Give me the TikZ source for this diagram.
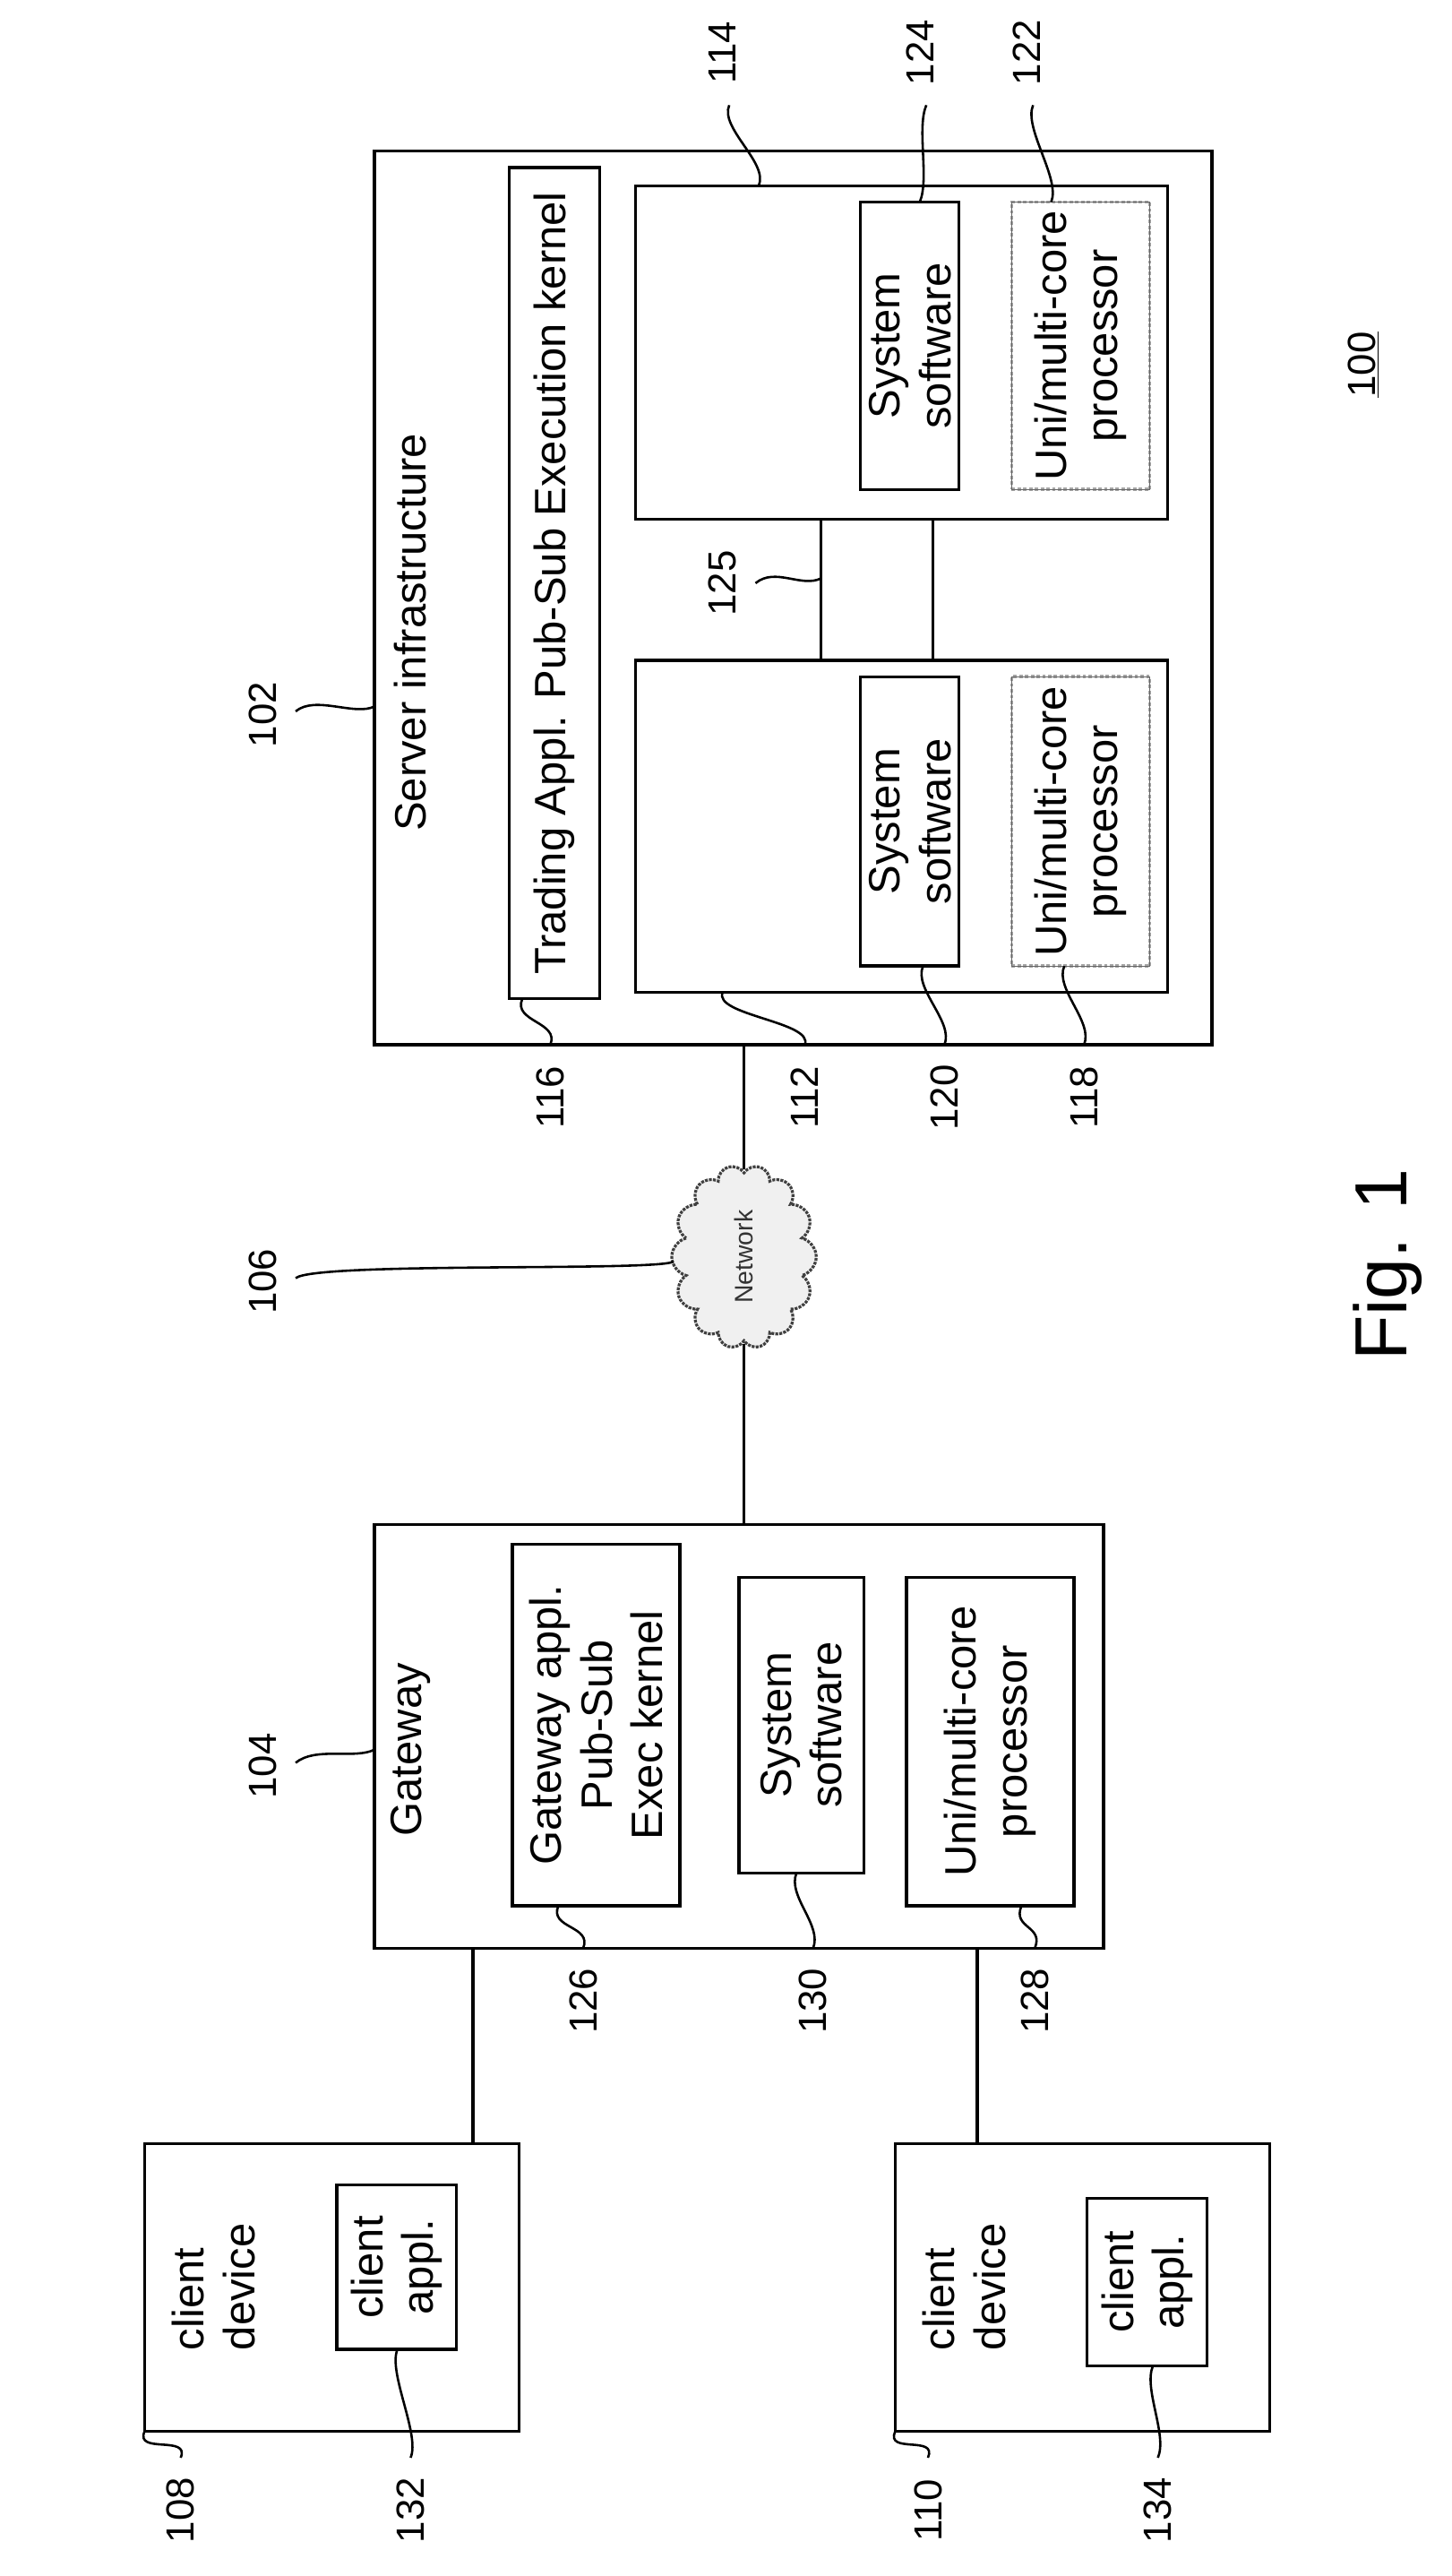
\documentclass[tikz,border=0pt]{standalone}
\usepackage{fontspec}
\setmainfont{Liberation Sans}
\usetikzlibrary{fit,shapes.symbols}
\begin{document}
\begin{tikzpicture}[x=0.05cm,y=-0.05cm,
 box/.style={draw,line width=2.6pt,inner sep=0pt},
 dbox/.style={draw=gray!70,line width=3pt,dotted,inner sep=0pt},
 txt/.style={rotate=90,align=center,font=\fontsize{38}{44}\selectfont},
 lab/.style={rotate=90,font=\fontsize{34}{38}\selectfont},
 con/.style={line width=2.6pt},
 ld/.style={line width=2pt}]
\useasboundingbox (0,0) rectangle (884,1568);
\newcommand\bx[7]{\node[#6,fit={(#2,#3)(#4,#5)}] (#1) {};
 \node[txt] (#1t) at (#1.center) {#7};}
% server
\bx{srv}{228}{92}{738}{636}{box}{}
\node[txt] (srvt2) at (250,385) {Server infrastructure};
\bx{trd}{310}{102}{365}{608}{box}{Trading Appl. Pub-Sub Execution kernel}
\bx{n112}{387}{402}{711}{604}{box}{}
\bx{n114}{387}{113}{711}{316}{box}{}
\bx{ss1}{524}{412}{584}{588}{box}{System\\software}
\bx{ss2}{524}{123}{584}{298}{box}{System\\software}
\node[dbox,fit={(616,412)(700,588)}] (up1) {};
\node[txt] (up1t) at (up1.center) {Uni/multi-core\\processor};
\node[box,draw=black!60,line width=0.8pt,fit={(616,412)(700,588)}] (up1b) {};
\node[dbox,fit={(616,123)(700,298)}] (up2) {};
\node[txt] (up2t) at (up2.center) {Uni/multi-core\\processor};
\node[box,draw=black!60,line width=0.8pt,fit={(616,123)(700,298)}] (up2b) {};
\coordinate (a1) at (500,402); \coordinate (a2) at (500,316);
\coordinate (b1) at (568,402); \coordinate (b2) at (568,316);
\draw[con] (a1)--(a2); \draw[con] (b1)--(b2);
% cloud
\node[cloud,cloud puffs=14,draw=black!75,densely dotted,line width=2.5pt,fill=gray!12,rotate=90,minimum width=5.6cm,minimum height=4.4cm,aspect=1.3] (net) at (453,765) {};
\node[rotate=90,font=\fontsize{22}{24}\selectfont\rmfamily,text=black!80] (nett) at (net.center) {Network};
% gateway
\bx{gw}{228}{928}{672}{1186}{box}{}
\node[txt] (gwt2) at (250,1065) {Gateway};
\bx{ga}{312}{940}{414}{1160}{box}{Gateway appl.\\Pub-Sub\\Exec kernel}
\bx{gs}{450}{960}{526}{1140}{box}{System\\software}
\bx{gp}{552}{960}{654}{1160}{box}{Uni/multi-core\\processor}
\coordinate (s0) at (453,636); \coordinate (s1) at (453,712);
\coordinate (s2) at (453,818); \coordinate (s3) at (453,928);
\draw[con] (s0) -- (s1);
\draw[con] (s2) -- (s3);
% clients
\bx{c1}{88}{1305}{316}{1480}{box}{}
\node[txt,align=left] (c1t2) at (130,1392) {client\\device};
\bx{ca1}{205}{1330}{278}{1430}{box}{client\\appl.}
\bx{c2}{545}{1305}{773}{1480}{box}{}
\node[txt,align=left] (c2t2) at (587,1392) {client\\device};
\bx{ca2}{662}{1338}{735}{1440}{box}{client\\appl.}
\draw[con] (288,1186) coordinate (g1) -- (c1.north -| g1);
\draw[con] (595,1186) coordinate (g2) -- (c2.north -| g2);
% title
\node[rotate=90,font=\fontsize{34}{38}\selectfont] (t100) at (830,222) {\underline{100}};
\node[rotate=90,font=\fontsize{64}{70}\selectfont] (fig) at (845,770) {Fig. 1};
% labels: name, x, y, start offset dx, dy, end x, end y
\newcommand\lb[7]{\node[lab] (l#1) at (#2,#3) {#1};
 \coordinate (e#1) at (#6,#7);
 \draw[ld] (l#1.center) ++(#4,#5) .. controls +(12,-10) and +(-12,6) .. (e#1);}
\lb{102}{160}{435}{20}{-2}{228}{430}
\lb{104}{160}{1075}{20}{-2}{228}{1065}
\lb{106}{160}{780}{20}{-2}{410}{768}
\lb{125}{440}{355}{20}{0}{500}{352}
\newcommand\lv[7]{\node[lab] (l#1) at (#2,#3) {#1};
 \coordinate (e#1) at (#6,#7);
 \draw[ld] (l#1.center) ++(#4,#5) .. controls +(-6,14) and +(6,-14) .. (e#1);}
\lv{114}{440}{32}{4}{32}{462}{113}
\lv{124}{560}{32}{4}{32}{560}{123}
\lv{122}{625}{32}{4}{32}{640}{123}
\newcommand\lt[7]{\node[lab] (l#1) at (#2,#3) {#1};
 \coordinate (e#1) at (#6,#7);
 \draw[ld] (l#1.center) ++(#4,#5) .. controls +(6,-14) and +(-6,14) .. (e#1);}
\lt{116}{335}{668}{0}{-32}{318}{608}
\lt{112}{490}{668}{0}{-32}{440}{604}
\lt{120}{575}{668}{0}{-32}{562}{588}
\lt{118}{660}{668}{0}{-32}{648}{588}
\lt{126}{355}{1218}{0}{-32}{340}{1160}
\lt{130}{495}{1218}{0}{-32}{485}{1140}
\lt{128}{630}{1218}{0}{-32}{622}{1160}
\lt{108}{110}{1528}{0}{-32}{88}{1480}
\lt{132}{250}{1528}{0}{-32}{242}{1430}
\lt{110}{565}{1528}{0}{-32}{545}{1480}
\lt{134}{705}{1528}{0}{-32}{702}{1440}
\end{tikzpicture}
\end{document}
